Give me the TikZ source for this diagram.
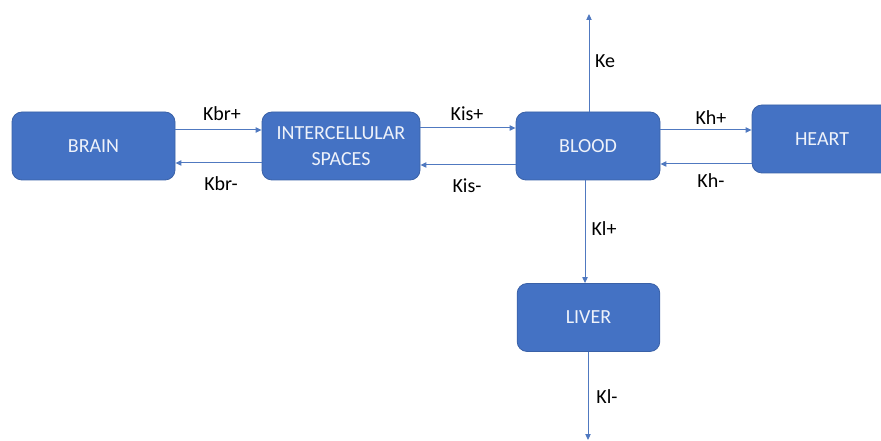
\documentclass[tikz,border=0pt]{standalone}
\usepackage{fontspec}
\setmainfont{Carlito}
\usetikzlibrary{arrows.meta, positioning, calc}
\definecolor{organblue}{HTML}{4472C4}
\definecolor{linkblue}{HTML}{5079C0}
\definecolor{boxtext}{HTML}{EEF2FA}
\tikzset{
  organ/.style={draw=organblue!85!black, line width=0.6pt, rounded corners=7.5pt, fill=organblue,
    text=boxtext, align=center, font=\fontsize{15}{19.5}\selectfont,
    minimum height=51pt, minimum width=#1, inner sep=0pt},
  arr/.style={draw=linkblue, line width=0.75pt, -{Triangle[length=4.5pt, width=4pt]}},
  rate/.style={font=\fontsize{15}{18}\selectfont, inner sep=0pt},
}
\begin{document}
\begin{tikzpicture}[x=0.75pt, y=-0.75pt]
    \useasboundingbox (0,0) rectangle (881,441);
    % compartments
    \node[organ=122.25pt] (brain) at (93.5,146) {BRAIN};
    \node[organ=118.5pt] (is) at (341,146) {INTERCELLULAR\\SPACES};
    \node[organ=108pt] (blood) at (588,146) {BLOOD};
    \node[organ=105pt] (heart) at (822,139) {HEART};
    \node[organ=107pt] (liver) at (588.5,317.5) {LIVER};
    \coordinate (elim) at (589,14);
    \coordinate (liverout) at (588,440);
    % exchanges
    \draw[arr] ([yshift=12pt]brain.east) -- ([yshift=12pt]is.west);
    \draw[arr] ([yshift=-12.75pt]is.west) -- ([yshift=-12.75pt]brain.east);
    \draw[arr] ([yshift=13.5pt]is.east) -- ([yshift=13.5pt]blood.west);
    \draw[arr] ([yshift=-14.25pt]blood.west) -- ([yshift=-14.25pt]is.east);
    \draw[arr] ([yshift=12pt]blood.east) -- ([yshift=12pt]blood.east -| heart.west);
    \draw[arr] ([yshift=-13.5pt]blood.east -| heart.west) -- ([yshift=-13.5pt]blood.east);
    \draw[arr] (blood.north -| elim) -- (elim);
    \draw[arr] ([xshift=-2.25pt]blood.south) -- ([xshift=-2.25pt]blood.south |- liver.north);
    \draw[arr] (liver.south -| liverout) -- (liverout);
    % rate constants
    \node[rate] (kbrp) at (222,114) {Kbr+};
    \node[rate] (kbrm) at (221,184) {Kbr-};
    \node[rate] (kisp) at (467,114) {Kis+};
    \node[rate] (kism) at (467,186) {Kis-};
    \node[rate] (khp) at (711,118) {Kh+};
    \node[rate] (khm) at (711,181) {Kh-};
    \node[rate] (ke) at (605,61) {Ke};
    \node[rate] (klp) at (604,229) {Kl+};
    \node[rate] (klm) at (607,397) {Kl-};
  \end{tikzpicture}
\end{document}
